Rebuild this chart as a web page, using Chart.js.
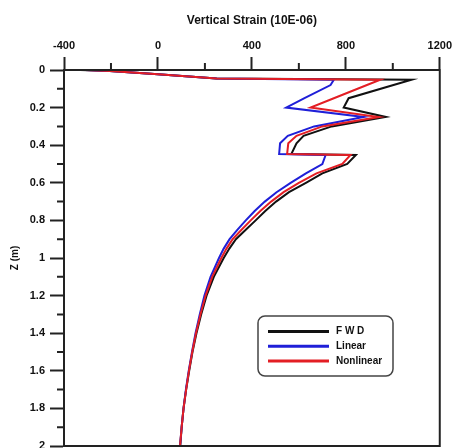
<!DOCTYPE html>
<html>
<head>
<meta charset="utf-8">
<script src="https://cdn.jsdelivr.net/npm/chart.js@4.4.0/dist/chart.umd.min.js"></script>
<style>
    html, body { margin: 0; padding: 0; background: #fff; overflow: hidden; }
    #wrap { width: 456px; height: 470px; }
</style>
</head>
<body>
<div id="wrap"><canvas id="chart-strain" width="456" height="470"></canvas></div>
<script>
// Perfil de deformación vertical vs profundidad
const depths = [0, 0.005, 0.023, 0.045, 0.052, 0.08, 0.15, 0.2, 0.25, 0.3, 0.35, 0.39, 0.447, 0.452,
    0.5, 0.55, 0.6, 0.65, 0.7, 0.75, 0.8, 0.85, 0.9, 0.95, 1.0, 1.1, 1.2, 1.3, 1.4, 1.5, 1.6, 1.7, 1.8, 1.9, 2.0];
const fwdStrain = [-330, -205, 0, 250, 1080, 1003, 812, 791, 970, 740, 620, 590, 568, 843,
    806, 700, 630, 558, 503, 457, 416, 374, 332, 304, 280, 238, 207, 184, 164, 147, 133, 120, 109, 101, 95];
const linearStrain = [-310, -205, 0, 250, 749, 735, 624, 546, 876, 665, 553, 520, 516, 714,
    700, 630, 565, 505, 455, 412, 374, 338, 305, 280, 260, 224, 198, 178, 160, 145, 131, 119, 109, 101, 94];
const nonlinearStrain = [-310, -205, 0, 250, 947, 890, 749, 650, 940, 700, 590, 555, 550, 820,
    785, 675, 600, 535, 482, 436, 395, 356, 318, 292, 270, 231, 203, 181, 162, 146, 132, 120, 109, 101, 94];

const seriesNames = ['F W D', 'Linear', 'Nonlinear'];
const seriesColors = ['#111111', '#1f1fd8', '#e31e24'];
const xMinorTicks = [-200, 200, 600, 1000];
const yMinorTicks = [0.1, 0.3, 0.5, 0.7, 0.9, 1.1, 1.3, 1.5, 1.7, 1.9];

const FONT = 'Liberation Sans, Arial, sans-serif';

function toPoints(values) {
    return values.map((v, i) => ({ x: v, y: depths[i] }));
}

// Marco, ticks menores y leyenda
const extrasPlugin = {
    id: 'extras',
    afterDraw(chart) {
        const { ctx, chartArea } = chart;
        const xs = chart.scales.x;
        const ys = chart.scales.y;
        ctx.save();
        ctx.strokeStyle = '#222';
        ctx.lineWidth = 2;
        ctx.strokeRect(chartArea.left, chartArea.top, chartArea.right - chartArea.left, chartArea.bottom - chartArea.top);

        ctx.beginPath();
        xMinorTicks.forEach(v => {
            const px = xs.getPixelForValue(v);
            ctx.moveTo(px, chartArea.top);
            ctx.lineTo(px, chartArea.top - 7);
        });
        yMinorTicks.forEach(v => {
            const py = ys.getPixelForValue(v);
            ctx.moveTo(chartArea.left, py);
            ctx.lineTo(chartArea.left - 7, py);
        });
        ctx.stroke();

        // leyenda
        const x0 = chartArea.left + 194;
        const y0 = chartArea.top + 246;
        ctx.beginPath();
        ctx.roundRect(x0, y0, 135, 60, 7);
        ctx.fillStyle = '#fff';
        ctx.fill();
        ctx.lineWidth = 1.5;
        ctx.strokeStyle = '#444';
        ctx.stroke();
        ctx.font = 'bold 10px ' + FONT;
        ctx.textBaseline = 'middle';
        seriesNames.forEach((name, i) => {
            const ly = y0 + 15.5 + i * 14.7;
            ctx.beginPath();
            ctx.lineWidth = 3;
            ctx.strokeStyle = seriesColors[i];
            ctx.moveTo(x0 + 10, ly);
            ctx.lineTo(x0 + 71, ly);
            ctx.stroke();
            ctx.fillStyle = '#111';
            ctx.fillText(name, x0 + 78, ly);
        });
        ctx.restore();
    }
};

const tickFont = { family: FONT, size: 11, weight: 'bold' };

new Chart(document.getElementById('chart-strain'), {
    type: 'scatter',
    data: {
        datasets: [
            { label: seriesNames[2], data: toPoints(nonlinearStrain), borderColor: seriesColors[2], order: 1 },
            { label: seriesNames[1], data: toPoints(linearStrain), borderColor: seriesColors[1], order: 2 },
            { label: seriesNames[0], data: toPoints(fwdStrain), borderColor: seriesColors[0], order: 3 }
        ].map(d => Object.assign(d, { showLine: true, borderWidth: 2, pointRadius: 0, tension: 0, fill: false }))
    },
    options: {
        responsive: false,
        animation: false,
        layout: { padding: { left: 0, top: 0, right: 15, bottom: 24 } },
        plugins: {
            legend: { display: false },
            tooltip: { enabled: false }
        },
        scales: {
            x: {
                type: 'linear',
                position: 'top',
                min: -400,
                max: 1200,
                ticks: { stepSize: 400, color: '#111', font: tickFont, padding: 4, callback: v => String(v) },
                grid: { drawOnChartArea: false, tickLength: 13, tickColor: '#222', tickWidth: 2 },
                border: { color: '#222', width: 2 },
                title: { display: true, text: 'Vertical Strain (10E-06)', color: '#111',
                    font: { family: FONT, size: 12, weight: 'bold' }, padding: { top: 13, bottom: 0 } },
                afterFit: s => { s.height = 70; }
            },
            y: {
                type: 'linear',
                position: 'left',
                reverse: true,
                min: 0,
                max: 2,
                ticks: { stepSize: 0.2, color: '#111', font: tickFont, padding: 5, callback: v => String(Number(v.toFixed(1))) },
                grid: { drawOnChartArea: false, tickLength: 14, tickColor: '#222', tickWidth: 2 },
                border: { color: '#222', width: 2 },
                title: { display: true, text: 'Z (m)', color: '#111',
                    font: { family: FONT, size: 10, weight: 'bold' }, padding: { top: 9, bottom: 0 } },
                afterFit: s => { s.width = 64; }
            }
        }
    },
    plugins: [extrasPlugin]
});
</script>
</body>
</html>
